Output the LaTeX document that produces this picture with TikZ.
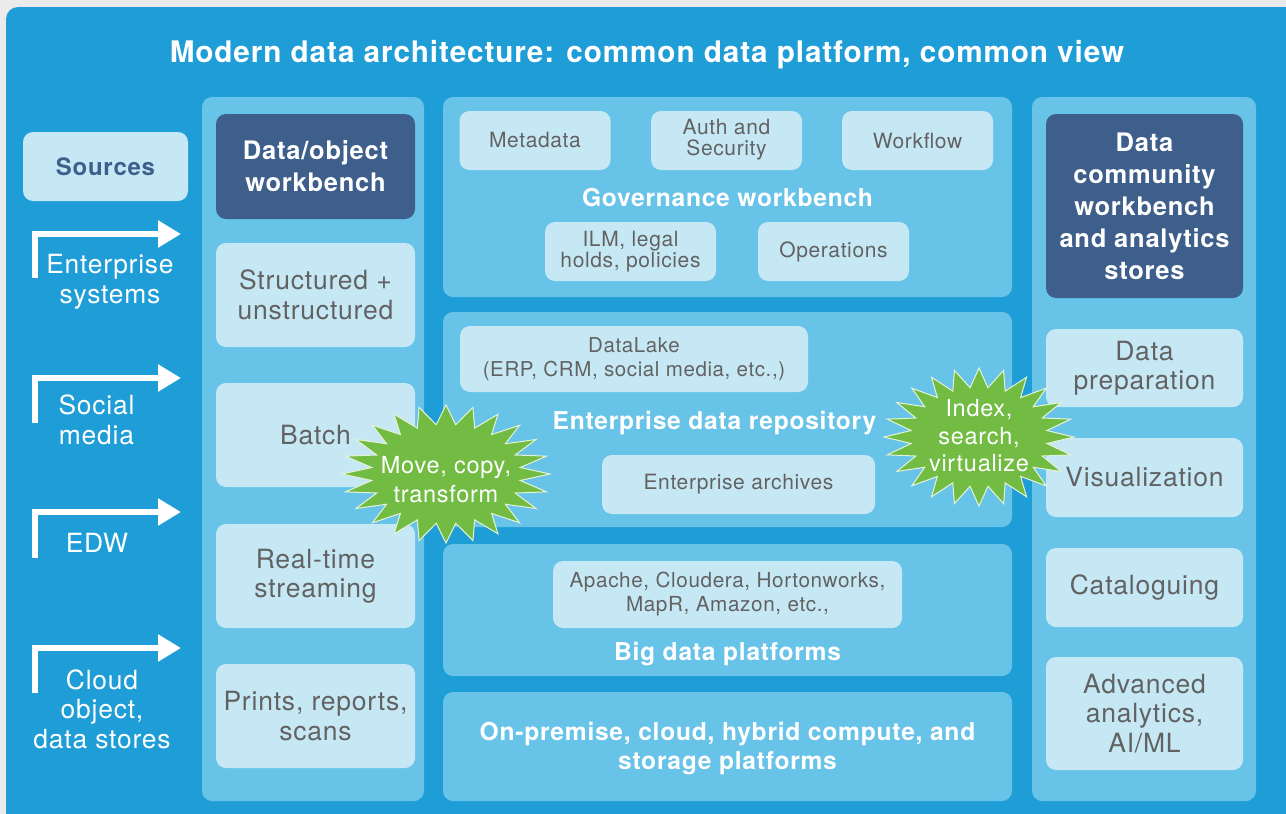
\documentclass[tikz,border=0pt]{standalone}
\usepackage{fontspec}
\setmainfont{TeX Gyre Heros}[LetterSpace=3]
\usetikzlibrary{arrows.meta}
\definecolor{pagebg}{HTML}{EBEBEB}
\definecolor{archblue}{HTML}{1F9DD7}
\definecolor{panelblue}{HTML}{68C3E9}
\definecolor{boxlight}{HTML}{C6E8F5}
\definecolor{boxdark}{HTML}{3E5F8B}
\definecolor{txtgray}{HTML}{626262}
\definecolor{burst}{HTML}{72BC44}
\definecolor{burstline}{HTML}{E4F2D6}

\begin{document}
\begin{tikzpicture}[x=1pt,y=-1pt,
  panel/.style={fill=panelblue, rounded corners=10pt, inner sep=0pt},
  lbox/.style={fill=boxlight, rounded corners=10pt, text=txtgray, align=center, inner sep=0pt,
    font={\fontsize{26.5}{29.5}\selectfont}},
  sbox/.style={lbox, font={\fontsize{21}{21.5}\selectfont}},
  dbox/.style={fill=boxdark, rounded corners=10pt, text=white, align=center, inner sep=0pt,
    font={\fontsize{25.5}{32}\selectfont\bfseries}},
  heading/.style={text=white, align=center, inner sep=0pt, font={\fontsize{24.6}{29}\selectfont\bfseries}},
  srclabel/.style={text=white, align=center, inner sep=0pt, font={\fontsize{26.4}{29.5}\selectfont}},
  feed/.style={draw=white, line width=5.5pt, -{Triangle[length=23pt,width=26pt]}},
  burstfill/.style={fill=burst, draw=burstline, line width=1pt},
  bursttext/.style={text=white, align=center, inner sep=0pt, font={\fontsize{23.5}{29}\selectfont}}
]
\clip (0,0) rectangle (1286,814);
\fill[pagebg] (0,0) rectangle (1286,814);
\fill[archblue, rounded corners=12pt] (6,7) rectangle (1300,840);

% title
\node[heading, font={\fontsize{29.7}{32}\selectfont\bfseries}] (title) at (647,55)
  {Modern data architecture: common data platform, common view};

% sources
\node[fill=boxlight, rounded corners=10pt, minimum width=165pt, minimum height=69pt,
  text=boxdark, font={\fontsize{24}{28}\selectfont\bfseries}] (sources) at (105.5,166.5) {Sources};

\coordinate (s1a) at (35,278); \coordinate (s1b) at (181,234);
\coordinate (s2a) at (35,423); \coordinate (s2b) at (181,378);
\coordinate (s3a) at (35,558); \coordinate (s3b) at (181,512);
\coordinate (s4a) at (35,693); \coordinate (s4b) at (181,648);
\draw[feed] (s1a) |- (s1b);
\draw[feed] (s2a) |- (s2b);
\draw[feed] (s3a) |- (s3b);
\draw[feed] (s4a) |- (s4b);

\node[srclabel] (ent) at (110,282) {Enterprise\\systems};
\node[srclabel] (soc) at (96.5,420) {Social\\media};
\node[srclabel] (edw) at (97,543) {EDW};
\node[srclabel] (cloud) at (102,709) {Cloud\\object,\\data stores};

% column panels
\node[panel, minimum width=222pt, minimum height=704pt] (col1) at (313,449) {};
\node[panel, minimum width=569pt, minimum height=200pt] (gov) at (727.5,197) {};
\node[panel, minimum width=569pt, minimum height=215pt] (repo) at (727.5,419.5) {};
\node[panel, minimum width=569pt, minimum height=132pt] (big) at (727.5,610) {};
\node[panel, minimum width=569pt, minimum height=109pt] (onprem) at (727.5,746.5) {};
\node[panel, minimum width=224pt, minimum height=704pt] (col3) at (1144,449) {};

% data/object workbench column
\node[dbox, minimum width=199pt, minimum height=105pt] (dow) at (315.5,166.5) {Data/object\\workbench};
\node[lbox, minimum width=199pt, minimum height=104pt] (struct) at (315.5,295) {Structured +\\unstructured};
\node[lbox, minimum width=199pt, minimum height=104pt] (batch) at (315.5,435) {Batch};
\node[lbox, minimum width=199pt, minimum height=104pt] (rts) at (315.5,576) {Real-time\\streaming};
\node[lbox, minimum width=199pt, minimum height=104pt] (prints) at (315.5,716) {Prints, reports,\\scans};

% governance workbench
\node[sbox, minimum width=151pt, minimum height=59pt] (meta) at (535,140.5) {Metadata};
\node[sbox, minimum width=151pt, minimum height=59pt] (auth) at (726.5,140.5) {\raisebox{-2pt}{\begin{tabular}{@{}c@{}}Auth and\\[-0.5pt]Security\end{tabular}}};
\node[sbox, minimum width=151pt, minimum height=59pt] (wf) at (917.5,140.5) {Workflow};
\node[heading] (govl) at (727.5,197.5) {Governance workbench};
\node[sbox, minimum width=171pt, minimum height=59pt] (ilm) at (630.5,251.5) {ILM, legal\\holds, policies};
\node[sbox, minimum width=151pt, minimum height=59pt] (ops) at (833.5,251.5) {Operations};

% enterprise data repository
\node[sbox, minimum width=348pt, minimum height=66pt, font={\fontsize{20.5}{24}\selectfont}] (lake) at (634,359)
  {DataLake\\(ERP, CRM, social media, etc.,)};
\node[heading] (repol) at (714.5,423.5) {Enterprise data repository};
\node[sbox, minimum width=273pt, minimum height=59pt] (arch) at (738.5,484.5) {Enterprise archives};

% big data platforms
\node[sbox, minimum width=349pt, minimum height=67pt, font={\fontsize{20.7}{24}\selectfont}] (apache) at (727.5,594.5)
  {Apache, Cloudera, Hortonworks,\\MapR, Amazon, etc.,};
\node[heading] (bigl) at (727.5,654) {Big data platforms};

% compute and storage
\node[heading] (onpreml) at (727.5,748.5) {On-premise, cloud, hybrid compute, and\\storage platforms};

% data community column
\node[dbox, minimum width=197pt, minimum height=184pt] (dcw) at (1144.5,206)
  {Data\\community\\workbench\\and analytics\\stores};
\node[lbox, minimum width=197pt, minimum height=78pt] (prep) at (1144.5,368) {Data\\preparation};
\node[lbox, minimum width=197pt, minimum height=79pt] (vis) at (1144.5,477.5) {Visualization};
\node[lbox, minimum width=197pt, minimum height=79pt] (cat) at (1144.5,587.5) {Cataloguing};
\node[lbox, minimum width=197pt, minimum height=113pt] (adv) at (1144.5,713.5) {Advanced\\analytics,\\AI/ML};

% starbursts
\filldraw[burstfill] plot[samples at={0,...,47}, variable=\i]
  ({446 + (104*(1-0.28*mod(\i,2)))*cos(\i*7.5)}, {474 + (69*(1-0.28*mod(\i,2)))*sin(\i*7.5)}) -- cycle;
\node[bursttext] (move) at (446,480) {Move, copy,\\transform};

\filldraw[burstfill] plot[samples at={0,...,47}, variable=\i]
  ({979 + (95*(1-0.28*mod(\i,2)))*cos(\i*7.5)}, {437 + (69*(1-0.28*mod(\i,2)))*sin(\i*7.5)}) -- cycle;
\node[bursttext, font={\fontsize{23.5}{27.5}\selectfont}] (index) at (979,436) {Index,\\search,\\virtualize};
\end{tikzpicture}
\end{document}
